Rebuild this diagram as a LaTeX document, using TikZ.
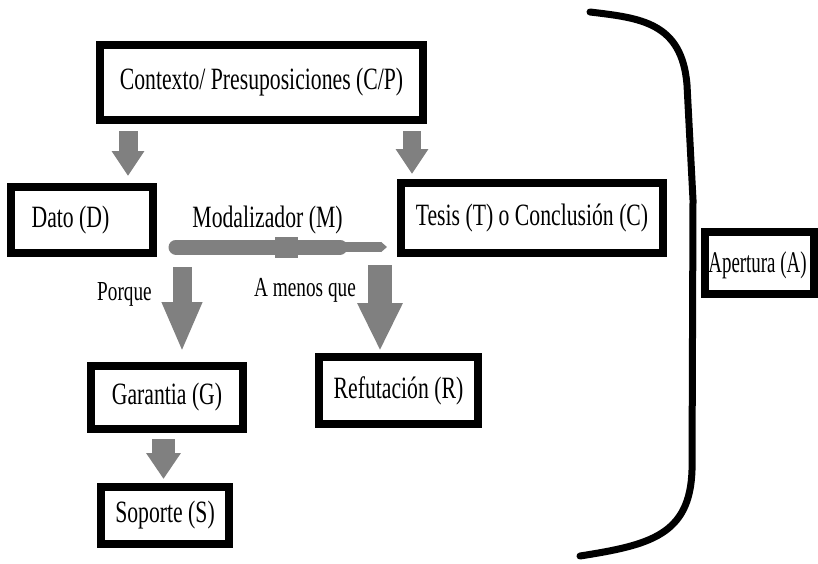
\documentclass[tikz,border=0pt]{standalone}
\usepackage{fontspec}
\setmainfont{Liberation Serif}[FakeStretch=0.7]
\newfontfamily\apfont{Liberation Serif}[FakeStretch=0.63]
\usetikzlibrary{arrows.meta,calc}
\definecolor{agray}{RGB}{128,128,128}
\tikzset{
  box/.style={draw=black, line width=8pt, fill=white, inner sep=0pt, font=\fontsize{31}{34}\selectfont},
  txt/.style={inner sep=0pt, font=\fontsize{31}{34}\selectfont},
  lbl/.style={inner sep=0pt, font=\fontsize{27.5}{30}\selectfont},
  fat/.style={draw=agray, line width=#1},
  brace/.style={draw=black, line width=7pt, line cap=round, line join=round}
}
\begin{document}
\begin{tikzpicture}[x=1pt,y=-1pt]
\useasboundingbox[fill=white] (0,0) rectangle (818,563);
% boxes
\node[box, minimum width=323pt, minimum height=75pt] (cp) at (261.5,82.5) {Contexto/ Presuposiciones (C/P)};
\node[box, minimum width=142pt, minimum height=66pt] (dato) at (82,220) {};
\node[txt] (datot) at (70.5,220) {Dato (D)};
\node[box, minimum width=262pt, minimum height=70pt] (tesis) at (532,218) {Tesis (T) o Conclusión (C)};
\node[box, minimum width=109pt, minimum height=62pt] (ap) at (759.5,263) {};
\node[txt, font=\apfont\fontsize{30}{33}\selectfont] (apt) at (757.5,265) {Apertura (A)};
\node[box, minimum width=159pt, minimum height=67pt] (refut) at (398.5,390.5) {Refutación (R)};
\node[box, minimum width=152pt, minimum height=63pt] (garan) at (167,397.5) {Garantia (G)};
\node[box, minimum width=128pt, minimum height=57pt] (sopor) at (165,515.5) {Soporte (S)};
% labels
\node[txt] (modal) at (267.5,220) {Modalizador (M)};
\node[lbl] (porque) at (124.5,294) {Porque};
\node[lbl] (amenos) at (305,290) {A menos que};
% guide coordinates
\coordinate (x1) at (128,0);
\coordinate (x2) at (412,0);
\coordinate (x3) at (163.5,0);
% fat arrows
\draw[fat=19pt, -{Triangle[length=25pt,width=31pt]}, shorten <=7pt, shorten >=7pt]
  (x1 |- cp.south) -- (x1 |- dato.north);
\draw[fat=18pt, -{Triangle[length=25pt,width=31pt]}, shorten <=7pt, shorten >=5pt]
  (x2 |- cp.south) -- (x2 |- tesis.north);
% modalizador bar
\coordinate (mL) at (176,247);
\coordinate (mM) at (340,247);
\coordinate (mR) at (387,247);
\draw[fat=15pt, line cap=round] (mL) -- (mM);
\draw[fat=10pt, -{Triangle[length=6pt,width=10pt]}] (mM) -- (mR);
\fill[agray] (275,236.5) rectangle (298,257.5);
% porque / a menos que
\coordinate (pq) at (182,267);
\coordinate (am) at (380,265);
\draw[fat=19pt, -{Triangle[length=50pt,width=37pt]}, shorten >=10pt] (pq) -- (pq |- garan.north);
\draw[fat=24pt, -{Triangle[length=48pt,width=42pt]}, shorten >=2pt] (am) -- (am |- refut.north);
\draw[fat=23pt, -{Triangle[length=26pt,width=33pt]}, shorten <=6pt, shorten >=4pt]
  (x3 |- garan.south) -- (x3 |- sopor.north);
% brace
\draw[brace] (590,12) .. controls (640,18) and (682,22) .. (687,85)
  -- (693,200) -- (692,470) .. controls (690,535) and (650,545) .. (580,556);
\end{tikzpicture}
\end{document}
